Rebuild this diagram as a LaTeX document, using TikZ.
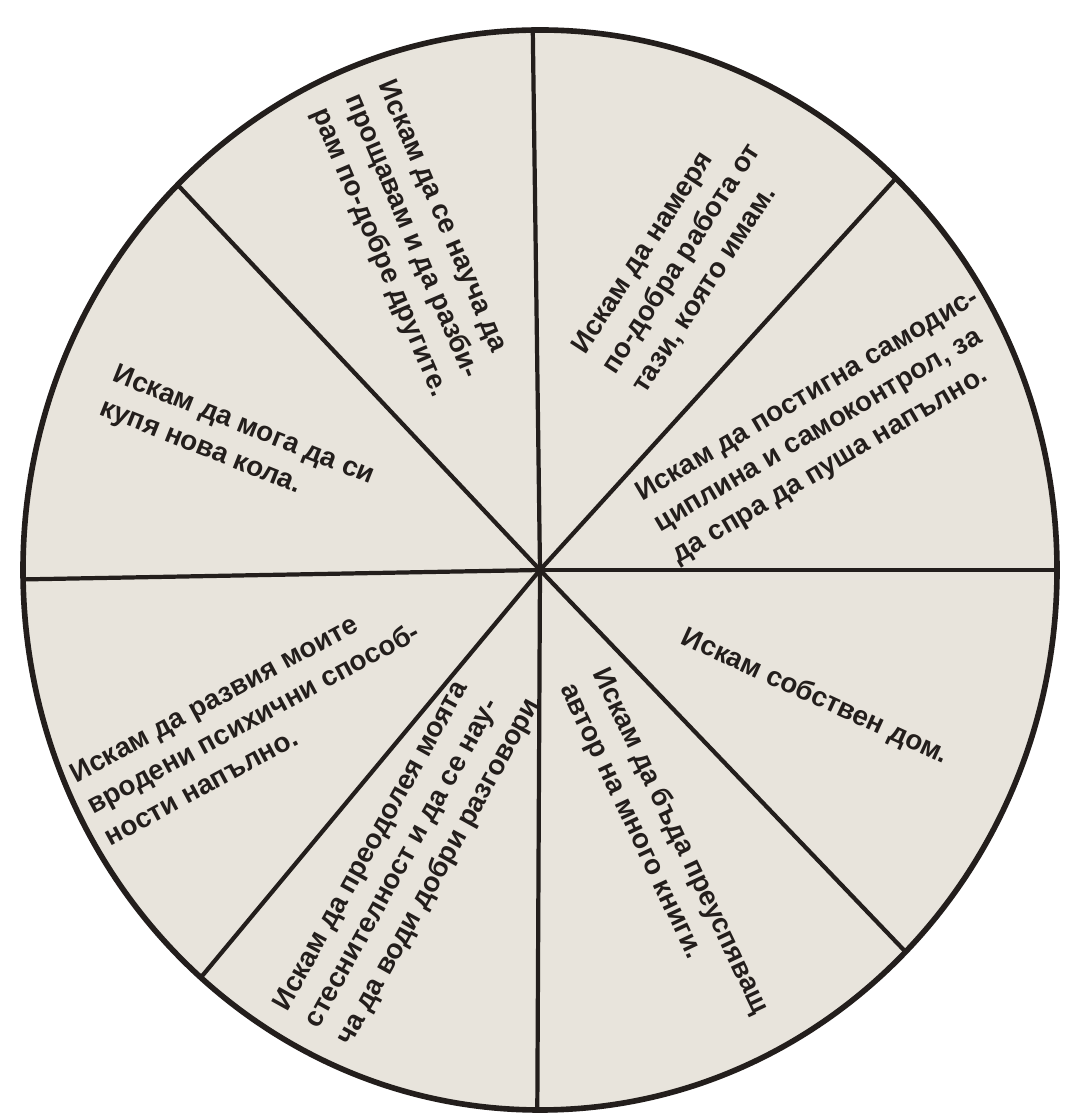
\documentclass[tikz,border=0pt]{standalone}
\usepackage{fontspec}
\setmainfont{Liberation Sans}
\usepackage{tikz}
\usetikzlibrary{positioning,calc}
\definecolor{paper}{HTML}{E8E4DC}
\definecolor{ink}{HTML}{231E1C}

\begin{document}
\begin{tikzpicture}[
    wheel/.style={draw=ink, line width=1.6pt, fill=paper},
    spoke/.style={draw=ink, line width=1.2pt},
    wish/.style={text=ink, font=\bfseries\fontsize{7.9}{10.2}\selectfont, align=left, inner sep=0pt}
]
\useasboundingbox (0,0) rectangle (10.78,11.17);
\fill[white] (0,0) rectangle (10.78,11.17);

% ---------------------------------------------------------------- Wheel
\coordinate (hub) at (5.40,5.47);
\draw[wheel] (hub) ellipse [x radius=5.17, y radius=5.40];

\coordinate (rimE)  at ($(hub)+(0:5.17 and 5.40)$);
\coordinate (rimNE) at ($(hub)+(46.5:5.17 and 5.40)$);
\coordinate (rimN)  at ($(hub)+(90.8:5.17 and 5.40)$);
\coordinate (rimNW) at ($(hub)+(134.5:5.17 and 5.40)$);
\coordinate (rimW)  at ($(hub)+(181:5.17 and 5.40)$);
\coordinate (rimSW) at ($(hub)+(229:5.17 and 5.40)$);
\coordinate (rimS)  at ($(hub)+(269.7:5.17 and 5.40)$);
\coordinate (rimSE) at ($(hub)+(315:5.17 and 5.40)$);

% ---------------------------------------------------------------- Spokes
\draw[spoke] (hub) -- (rimE);
\draw[spoke] (hub) -- (rimNE);
\draw[spoke] (hub) -- (rimN);
\draw[spoke] (hub) -- (rimNW);
\draw[spoke] (hub) -- (rimW);
\draw[spoke] (hub) -- (rimSW);
\draw[spoke] (hub) -- (rimS);
\draw[spoke] (hub) -- (rimSE);

% ---------------------------------------------------------------- Wishes
\node[wish, rotate=-67]   (forgive) at (4.12,8.78) {Искам да се науча да\\прощавам и да разби-\\рам по-добре другите.};
\node[wish, rotate=57]    (job)     at (6.82,8.58) {Искам да намеря\\по-добра работа от\\тази, която имам.};
\node[wish, rotate=30.5]  (smoke)   at (8.26,6.90) {Искам да постигна самодис-\\циплина и самоконтрол, за\\да спра да пуша напълно.};
\node[wish, rotate=-24.6] (home)    at (8.15,4.20) {Искам собствен дом.};
\node[wish, rotate=-64.7] (author)  at (6.64,2.68) {Искам да бъда преуспяващ\\автор на много книги.};
\node[wish, rotate=61]    (shy)     at (4.08,2.62) {Искам да преодолея моята\\стеснителност и да се нау-\\ча да води добри разговори};
\node[wish, rotate=28.4]  (psychic) at (2.53,3.99) {Искам да развия моите\\вродени психични способ-\\ности напълно.};
\node[wish, rotate=-21.8] (car)     at (2.37,6.74) {Искам да мога да си\\купя нова кола.};

\end{tikzpicture}
\end{document}
